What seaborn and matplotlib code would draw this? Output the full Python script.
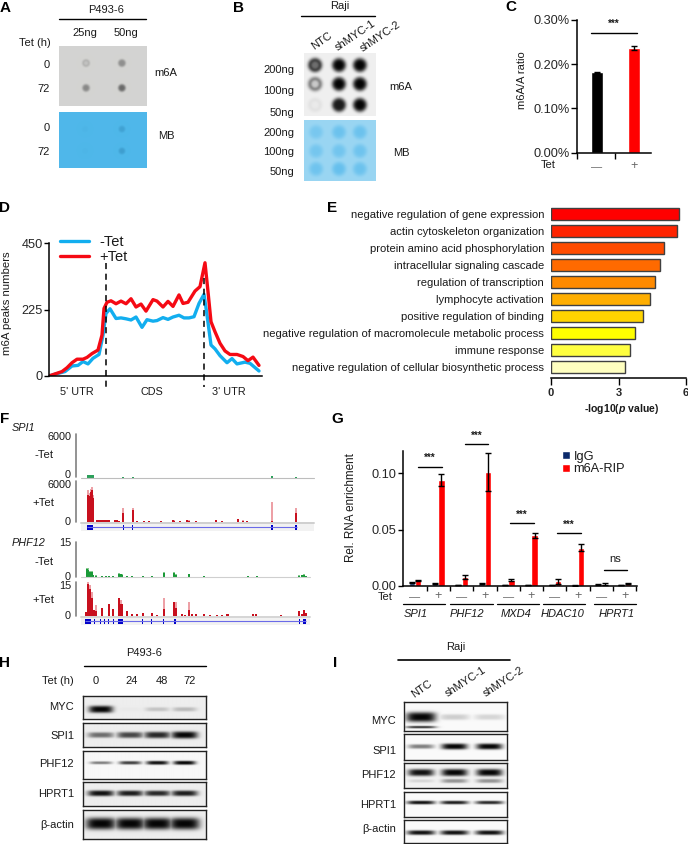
import numpy as np
import pandas as pd
import matplotlib
matplotlib.use('Agg')
import matplotlib.pyplot as plt
from matplotlib.lines import Line2D
from matplotlib.patches import Rectangle
import seaborn as sns

W, H = 688, 844

# panel C
tet_groups = ['-', '+']
ratio_vals = [0.182, 0.237]
ratio_errs = [0.001, 0.004]

# panel D
minus_x = [0, 6, 16, 23, 29, 34, 39, 44, 50, 54, 57, 61, 67, 72, 77, 82, 87, 93, 98, 104, 108, 114, 119, 124, 130,
           135, 140, 145, 150, 155, 158, 162, 166, 171, 178, 183, 188, 196, 201, 210]
minus_peaks = [0, 6, 15, 34, 36, 49, 41, 60, 73, 139, 212, 228, 195, 197, 194, 190, 200, 165, 191, 186, 188, 198, 192,
               200, 206, 197, 197, 201, 246, 277, 207, 105, 92, 69, 45, 59, 41, 47, 43, 17]
plus_x = [0, 6, 13, 18, 23, 28, 34, 38, 43, 49, 53, 55, 58, 62, 67, 72, 77, 82, 87, 92, 97, 104, 108, 114, 119, 124,
          130, 134, 139, 146, 151, 156, 159, 162, 166, 171, 176, 181, 188, 194, 199, 204, 210]
plus_peaks = [0, 7, 15, 28, 45, 57, 57, 63, 76, 88, 139, 229, 250, 255, 245, 254, 245, 262, 234, 244, 220, 259, 254,
              234, 253, 236, 275, 246, 250, 288, 303, 384, 286, 184, 150, 111, 85, 73, 73, 66, 52, 64, 36]

# panel E
go_terms = ['negative regulation of gene expression', 'actin cytoskeleton organization',
            'protein amino acid phosphorylation', 'intracellular signaling cascade',
            'regulation of transcription', 'lymphocyte activation', 'positive regulation of binding',
            'negative regulation of macromolecule metabolic process', 'immune response',
            'negative regulation of cellular biosynthetic process']
go_vals = [5.68, 5.60, 5.02, 4.85, 4.63, 4.42, 4.08, 3.75, 3.53, 3.27]
go_colors = ['#ff0000', '#ff2400', '#ff4c00', '#ff6a00', '#ff8a00', '#ffae00', '#ffd400', '#ffff00', '#ffff40',
             '#ffffc0']

# panel F
spi1_minus_pos = [264, 268, 272, 276, 280, 370, 398, 815, 887]
spi1_minus_val = [350, 400, 350, 350, 300, 120, 130, 200, 100]
spi1_plus_pos = [264, 267, 270, 273, 276, 279, 370, 398, 815, 887, 290, 296, 302, 310, 316, 322, 328, 345, 352, 358,
                 412, 432, 448, 482, 518, 522, 540, 562, 566, 588, 648, 665, 715, 730, 742]
spi1_plus_val = [4600, 4200, 4000, 4800, 5100, 4000, 1950, 2050, 2900, 2050, 150, 180, 150, 200, 200, 200, 180, 150,
                 150, 120, 120, 100, 100, 100, 200, 150, 80, 200, 150, 100, 220, 100, 380, 150, 120]
spi1_plus_dark = [3900, 3800, 3500, 4300, 4700, 3500, 1220, 1650, 100, 1200, 150, 180, 150, 200, 200, 200, 180, 150,
                  150, 120, 60, 50, 50, 50, 150, 100, 40, 150, 100, 50, 150, 50, 300, 100, 80]
phf_minus_pos = [262, 265, 270, 275, 280, 288, 305, 318, 326, 340, 358, 362, 367, 380, 396, 428, 455, 491, 522, 527,
                 566, 611, 745, 770, 898, 905, 912, 918]
phf_minus_val = [3.9, 3.5, 2.4, 2.6, 0.7, 0.5, 0.4, 0.3, 0.3, 0.4, 1.4, 1.3, 1.0, 0.4, 0.4, 0.3, 0.3, 2.1, 1.9, 1.0,
                 1.1, 0.3, 0.2, 0.2, 0.5, 0.6, 1.0, 0.4]
phf_plus_pos = [258, 265, 270, 276, 281, 288, 305, 326, 338, 358, 362, 367, 380, 396, 410, 428, 455, 470, 491, 522,
                527, 545, 555, 566, 575, 588, 612, 630, 650, 665, 680, 685, 760, 768, 842, 898, 905, 912, 917]
phf_plus_val = [1.5, 15.7, 13.5, 10.3, 2.5, 4.7, 3.5, 5.0, 2.8, 8.0, 6.9, 5.1, 2.2, 0.6, 0.5, 1.3, 1.2, 0.4, 7.9, 6.2,
                5.9, 0.5, 0.4, 6.2, 0.6, 0.5, 0.5, 0.3, 0.3, 0.4, 0.7, 0.6, 0.5, 0.5, 0.3, 2.2, 0.8, 2.4, 1.0]
phf_plus_dark = [1.5, 14, 12, 8, 2.5, 2, 3.5, 5.0, 2.8, 8.0, 5, 5, 2.2, 0.6, 0.5, 1.3, 1.2, 0.4, 3, 6.2,
                 3.5, 0.5, 0.4, 2.5, 0.6, 0.5, 0.5, 0.3, 0.3, 0.4, 0.7, 0.6, 0.5, 0.5, 0.3, 2.2, 0.8, 2.4, 1.0]
spi1_exons = [(262, 280), (369, 373), (396, 400), (814, 818), (885, 892)]
phf_exons = [(255, 272), (275, 277), (282, 284), (290, 292), (300, 302), (312, 314), (325, 328), (340, 342),
             (355, 370), (380, 382), (392, 394), (427, 429), (454, 456), (490, 492), (522, 527), (566, 568),
             (897, 900), (910, 917)]

# panel G
rip_groups = ['SPI1 -', 'SPI1 +', 'PHF12 -', 'PHF12 +', 'MXD4 -', 'MXD4 +', 'HDAC10 -', 'HDAC10 +', 'HPRT1 -',
              'HPRT1 +']
igg_vals = [0.003, 0.002, 0.001, 0.002, 0.001, 0.001, 0.001, 0.0005, 0.0015, 0.001]
igg_errs = [0.0005, 0.0005, 0.0002, 0.0005, 0.0002, 0.0002, 0.0002, 0.0002, 0.0003, 0.0002]
rip_vals = [0.005, 0.094, 0.008, 0.101, 0.005, 0.045, 0.004, 0.034, 0.002, 0.002]
rip_errs = [0.0005, 0.005, 0.002, 0.017, 0.001, 0.002, 0.002, 0.003, 0.0008, 0.0005]
gene_names = ['SPI1', 'PHF12', 'MXD4', 'HDAC10', 'HPRT1']

# dot blots, level per dot and how hollow it is
a_m6a_levels = [[0.30, 0.50], [0.50, 0.70]]
a_m6a_holes = [[0.6, 0.1], [0.0, 0.0]]
a_mb_levels = [[0.05, 0.30], [0.04, 0.35]]
b_m6a_levels = [[1.0, 1.0, 1.0], [0.65, 1.0, 1.0], [0.08, 1.0, 1.0]]
b_m6a_holes = [[0.45, 0.0, 0.0], [0.75, 0.0, 0.0], [0.7, 0.1, 0.0]]
b_mb_levels = [[0.55, 0.75, 0.75], [0.6, 0.65, 0.7], [0.7, 0.85, 0.75]]

# western blots, band strength per lane
h_lanes = ['0', '24', '48', '72']
h_myc = [1.0, 0.02, 0.18, 0.22]
h_spi1 = [0.55, 0.72, 0.85, 1.0]
h_phf12 = [0.5, 0.75, 0.95, 1.0]
h_hprt1 = [0.95, 0.9, 0.85, 0.9]
h_actin = [1.0, 1.0, 1.0, 1.0]
i_lanes = ['NTC', 'shMYC-1', 'shMYC-2']
i_myc = [1.0, 0.18, 0.15]
i_myc_low = [0.8, 0.0, 0.0]
i_spi1 = [0.5, 1.0, 1.0]
i_phf12 = [0.95, 1.0, 1.0]
i_phf12_low = [0.12, 0.4, 0.4]
i_hprt1 = [0.95, 0.9, 0.85]
i_actin = [0.95, 0.95, 0.95]

sns.set_theme(style='ticks')
plt.rcParams['font.family'] = ['Liberation Sans', 'DejaVu Sans']
plt.rcParams['mathtext.fontset'] = 'custom'
plt.rcParams['mathtext.rm'] = 'Liberation Sans'
plt.rcParams['mathtext.it'] = 'Liberation Sans:italic'
plt.rcParams['mathtext.bf'] = 'Liberation Sans:bold'
plt.rcParams['mathtext.bfit'] = 'Liberation Sans:italic:bold'
plt.rcParams['text.color'] = '#1a1a1a'

fig = plt.figure(figsize=(W / 100, H / 100), dpi=100)


def px_axes(x0, y0, x1, y1):
    return fig.add_axes([x0 / W, 1 - y1 / H, (x1 - x0) / W, (y1 - y0) / H])


def label(x, y, s, ha='center', size=8, **kw):
    fig.text(x / W, 1 - y / H, s, ha=ha, va='center', fontsize=size, **kw)


def hline(x0, x1, y, lw=1.0, color='black'):
    fig.add_artist(Line2D([x0 / W, x1 / W], [1 - y / H, 1 - y / H], color=color, lw=lw))


def vline(x, y0, y1, lw=1.0, color='black', **kw):
    fig.add_artist(Line2D([x / W, x / W], [1 - y0 / H, 1 - y1 / H], color=color, lw=lw, **kw))


def dot_blot(box, col_px, row_px, levels, holes, radius, bg, ink):
    # soft round spots on a membrane
    x0, y0, x1, y1 = box
    ax = px_axes(x0, y0, x1, y1)
    xx, yy = np.meshgrid(np.linspace(x0, x1, (x1 - x0) * 3), np.linspace(y0, y1, (y1 - y0) * 3))
    alpha = np.zeros_like(xx)
    for j, cy in enumerate(row_px):
        for i, cx in enumerate(col_px):
            r = np.hypot(xx - cx, yy - cy)
            spot = np.exp(-(r / radius) ** 4)
            hole = 0 if holes is None else holes[j][i]
            spot = spot * (1 - hole * np.exp(-(r / (radius * 0.62)) ** 4))
            alpha = np.maximum(alpha, levels[j][i] * spot)
    bg = np.array(matplotlib.colors.to_rgb(bg))
    ink = np.array(matplotlib.colors.to_rgb(ink))
    img = bg[None, None, :] * (1 - alpha[..., None]) + ink[None, None, :] * alpha[..., None]
    ax.imshow(img, aspect='auto', interpolation='bilinear')
    ax.axis('off')


def west_blot(box, lanes_frac, half_w, bands, bg=0.93):
    # bands is a list of (height fraction, strengths, thickness in px)
    x0, y0, x1, y1 = box
    ax = px_axes(x0, y0, x1, y1)
    xx, yy = np.meshgrid(np.linspace(0, x1 - x0, (x1 - x0) * 3), np.linspace(0, y1 - y0, (y1 - y0) * 3))
    dark = np.zeros_like(xx)
    for frac, strengths, thick in bands:
        for lane, s in zip(lanes_frac, strengths):
            dx = (xx - lane * (x1 - x0)) / half_w
            dy = (yy - frac * (y1 - y0)) / (thick * (0.5 + 0.5 * s))
            dark = np.maximum(dark, s * np.exp(-dx ** 4) * np.exp(-np.abs(dy) ** 3))
    ax.imshow(bg * (1 - dark) + 0.02 * dark, cmap='gray', vmin=0, vmax=1, aspect='auto', interpolation='bilinear')
    ax.set_xticks([])
    ax.set_yticks([])
    for s in ax.spines.values():
        s.set_visible(True)
        s.set_linewidth(1.0)
        s.set_color('#222222')


# panel letters
for x, y, s in [(5, 8, 'A'), (238, 8, 'B'), (511, 7, 'C'), (5, 208, 'D'), (332, 208, 'E'), (5, 419, 'F'),
                (337, 419, 'G'), (5, 663, 'H'), (335, 663, 'I')]:
    label(x, y, s, size=11, fontweight='bold', color='black')

# A
hline(59, 146, 19)
label(106, 10, 'P493-6', size=8)
label(85, 33, '25ng', size=8)
label(126, 33, '50ng', size=8)
label(35, 43, 'Tet (h)', size=8)
for y, s in [(65, '0'), (89, '72'), (128, '0'), (152, '72')]:
    label(50, y, s, ha='right', size=8)
label(166, 73, 'm6A', size=8)
label(166, 136, 'MB', size=8)
dot_blot((59, 46, 147, 106), [86, 122], [63, 88], a_m6a_levels, a_m6a_holes, 3.8, '#d4d4d2', '#3c3c3c')
dot_blot((59, 112, 147, 168), [85, 122], [129, 151], a_mb_levels, None, 3.4, '#4fb8ea', '#1f6f9f')

# B
hline(301, 375, 15.5)
label(340, 6, 'Raji', size=8)
label(321.5, 41, 'NTC', size=8, rotation=35)
label(355, 36, 'shMYC-1', size=8, rotation=34)
label(380, 37, 'shMYC-2', size=8, rotation=34)
for y, s in [(70, '200ng'), (91, '100ng'), (113, '50ng'), (133, '200ng'), (152, '100ng'), (172, '50ng')]:
    label(294, y, s, ha='right', size=8)
label(401, 87, 'm6A', size=8)
label(401, 153, 'MB', size=8)
dot_blot((304, 53, 376, 116), [315, 339, 360], [65, 84, 105], b_m6a_levels, b_m6a_holes, 7.0, '#f0f0f0', '#050505')
dot_blot((304, 120, 376, 181), [316, 339, 360], [132, 151, 169], b_mb_levels, None, 7.0, '#9ad6f3', '#5dbcec')

# C
ax = px_axes(577, 20, 651, 152.7)
sns.barplot(x=tet_groups, y=ratio_vals, hue=tet_groups, palette=['black', 'red'], width=0.3, legend=False, ax=ax,
            saturation=1)
ax.errorbar([0, 1], ratio_vals, yerr=ratio_errs, fmt='none', ecolor='black', elinewidth=1, capsize=2.5, capthick=1)
ax.set_xlim(-0.54, 1.46)
ax.set_ylim(0, 0.30)
ax.set_yticks([0, 0.1, 0.2, 0.3])
ax.set_yticklabels(['0.00%', '0.10%', '0.20%', '0.30%'], fontsize=9.2)
ax.set_xticks([-0.54, 0.5])
ax.set_xticklabels([])
ax.tick_params(length=4, width=1, pad=1, color='black')
ax.set_ylabel('')
sns.despine(ax=ax)
for s in ['left', 'bottom']:
    ax.spines[s].set_linewidth(1.1)
    ax.spines[s].set_color('black')
label(522, 80, 'm6A/A ratio', size=8, rotation=90)
label(548, 165, 'Tet', size=8)
label(597, 167, '\u2014', size=8, color='#666666')
label(634, 166, '+', size=9, color='#666666')
hline(591, 637, 33)
label(614, 24, '***', size=7, fontweight='bold')

# D
ax = px_axes(49, 243.3, 262, 376)
sns.lineplot(x=minus_x, y=minus_peaks, color='#12aeef', lw=2.4, ax=ax, label='-Tet', sort=False, errorbar=None)
sns.lineplot(x=plus_x, y=plus_peaks, color='#f50a14', lw=2.4, ax=ax, label='+Tet', sort=False, errorbar=None)
ax.set_xlim(0, 213)
ax.set_ylim(0, 450)
ax.set_yticks([0, 225, 450])
ax.set_yticklabels(['0', '225', '450'], fontsize=9.2)
ax.set_xticks([])
ax.tick_params(length=3.5, width=1, pad=1, color='black')
sns.despine(ax=ax)
for s in ['left', 'bottom']:
    ax.spines[s].set_linewidth(1.1)
    ax.spines[s].set_color('black')
ax.legend(loc='upper left', bbox_to_anchor=(0.052, 1.06), frameon=False, fontsize=10.5, handlelength=2.0,
          handletextpad=0.7, labelspacing=0.05, borderpad=0, borderaxespad=0)
vline(106, 263, 387, lw=1.1, linestyle=(0, (4, 3)))
vline(203.7, 278, 387, lw=1.1, linestyle=(0, (4, 3)))
label(7, 303, 'm6A peaks numbers', size=8.2, rotation=90)
label(77, 392, "5' UTR", size=7.8)
label(152, 392, 'CDS', size=7.8)
label(229, 392, "3' UTR", size=7.8)

# E
ax = px_axes(551, 205.5, 686, 378)
sns.barplot(x=go_vals, y=go_terms, hue=go_terms, palette=go_colors, orient='h', width=0.7, legend=False, ax=ax,
            saturation=1, edgecolor='#404040', linewidth=1)
ax.set_xlim(0, 6)
ax.set_ylim(9.65, -0.5)
ax.set_xticks([0, 3, 6])
ax.set_xticklabels(['0', '3', '6'], fontsize=8, fontweight='bold')
ax.tick_params(axis='x', length=5, width=1, pad=2, color='black')
ax.tick_params(axis='y', length=0, pad=5, labelsize=8.1, labelcolor='#1a1a1a')
ax.set_xlabel('')
sns.despine(ax=ax, left=True)
ax.spines['bottom'].set_color('black')
ax.spines['bottom'].set_linewidth(1.1)
label(622, 409, r'-log10($\mathbfit{p}$ value)', size=7.6, fontweight='bold')


# F
def track(box, pos, vals, top, xmax, light, dark_vals=None, dark=None, width=5.5):
    ax = px_axes(*box)
    ax.bar(pos, vals, width=width, color=light, linewidth=0)
    if dark_vals is not None:
        ax.bar(pos, dark_vals, width=width, color=dark, linewidth=0)
    ax.set_xlim(243, xmax)
    ax.set_ylim(0, top)
    ax.axis('off')
    return ax


def gene_model(y0, y1, xmax, px_right, exons, start, end):
    ax = px_axes(81, y0, px_right, y1)
    ax.set_facecolor('#f2f2f2')
    ax.hlines(0.5, start, end, color='#6a6ae8', lw=0.8)
    for a, b in exons:
        ax.add_patch(Rectangle((a, 0.15), b - a, 0.7, color='#0000c8', lw=0))
    ax.set_xlim(243, xmax)
    ax.set_ylim(0, 1)
    ax.set_xticks([])
    ax.set_yticks([])
    for s in ax.spines.values():
        s.set_visible(False)


track((81, 434, 314, 477.5), spi1_minus_pos, spi1_minus_val, 6000, 942, '#2ca05a')
track((81, 481, 314, 521.5), spi1_plus_pos, spi1_plus_val, 6000, 942, '#eda0a6', spi1_plus_dark, '#c8101e')
track((81, 542, 310, 576.5), phf_minus_pos, phf_minus_val, 15, 930, '#86c98f', [v * 0.8 for v in phf_minus_val], '#1a9a38')
track((81, 582, 310, 615.5), phf_plus_pos, phf_plus_val, 15, 930, '#eda0a6', phf_plus_dark, '#c8101e')
hline(81, 314, 478, lw=0.8, color='#bdbdbd')
hline(81, 314, 522.5, lw=1.4, color='#cfcfcf')
hline(81, 310, 577, lw=0.8, color='#cfcfcf')
hline(81, 310, 616.5, lw=1.4, color='#d5d5d5')
gene_model(523.5, 531, 942, 314, spi1_exons, 262, 892)
gene_model(617.5, 625, 930, 310, phf_exons, 255, 917)
for y0, y1 in [(434, 477), (481, 522), (542, 577), (582, 616)]:
    vline(76, y0, y1, lw=1.2, color='#808080')
label(12, 428, 'SPI1', ha='left', size=7.8, style='italic')
label(12, 543, 'PHF12', ha='left', size=7.8, style='italic')
for y, s in [(437, '6000'), (475, '0'), (485, '6000'), (522, '0'), (543, '15'), (577, '0'), (586, '15'), (616, '0')]:
    label(71, y, s, ha='right', size=7.8)
for y, s in [(455, '-Tet'), (503, '+Tet'), (562, '-Tet'), (600, '+Tet')]:
    label(54, y, s, ha='right', size=8.2)

# G
ax = px_axes(403, 450.7, 637, 586)
rip_df = pd.DataFrame({'group': rip_groups * 2, 'value': igg_vals + rip_vals,
                       'antibody': ['IgG'] * 10 + ['m6A-RIP'] * 10})
sns.barplot(data=rip_df, x='group', y='value', hue='antibody', palette=['#0b2a6b', '#ff0000'], width=0.55, ax=ax,
            saturation=1)
for container, errs in zip(ax.containers, [igg_errs, rip_errs]):
    for bar, err in zip(container, errs):
        ax.errorbar(bar.get_x() + bar.get_width() / 2, bar.get_height(), yerr=err, fmt='none', ecolor='black',
                    elinewidth=1, capsize=2.5, capthick=1)
ax.set_xlim(-0.515, 9.53)
ax.set_ylim(0, 0.12)
ax.set_yticks([0, 0.05, 0.10])
ax.set_yticklabels(['0.00', '0.05', '0.10'], fontsize=9.2)
ax.set_xticks(np.arange(10) + 0.5)
ax.set_xticklabels([])
ax.set_xlabel('')
ax.set_ylabel('')
ax.tick_params(length=3.5, width=1, pad=1, color='black')
sns.despine(ax=ax)
for s in ['left', 'bottom']:
    ax.spines[s].set_linewidth(1.1)
    ax.spines[s].set_color('black')
handles, labels_ = ax.get_legend_handles_labels()
ax.legend(handles, labels_, loc='upper left', bbox_to_anchor=(0.68, 1.0), frameon=False, fontsize=9.2,
          handlelength=0.6, handleheight=0.6, handletextpad=0.3, labelspacing=0.05, borderpad=0, borderaxespad=0)
label(351, 508, 'Rel. RNA enrichment', size=8.4, rotation=90)
label(385, 597.5, 'Tet', size=8)
for i in range(10):
    cx = 415 + i * 23.3
    if i % 2 == 0:
        label(cx, 597.5, '\u2014', size=8, color='#666666')
    else:
        label(cx, 596.5, '+', size=9, color='#666666')
for x0, x1, y, txt_y, txt in [(418, 442, 467, 458, '***'), (465, 488, 444, 436, '***'), (510, 534, 523, 515, '***'),
                              (557, 581, 533, 525, '***'), (604, 627, 570, 559, 'ns')]:
    hline(x0, x1, y)
    if txt == 'ns':
        label((x0 + x1) / 2, txt_y, txt, size=8)
    else:
        label((x0 + x1) / 2, txt_y, txt, size=7, fontweight='bold')
for x0, x1 in [(403, 445), (450, 493), (497, 539), (543, 585), (594, 636)]:
    hline(x0, x1, 603.7, lw=0.9)
for x, s in zip([416, 467, 516, 563, 617], gene_names):
    label(x, 614, s, size=8, style='italic')

# H
hline(84, 206, 666)
label(144, 653, 'P493-6', size=8)
label(58, 681, 'Tet (h)', size=8)
for x, s in zip([96, 132, 161.5, 190], h_lanes):
    label(x, 681, s, size=8)
h_frac = [0.144, 0.38, 0.6, 0.82]
west_blot((83, 696, 206, 719), h_frac, 12, [(0.58, h_myc, 3.6)])
west_blot((83, 723, 206, 747), h_frac, 13, [(0.5, h_spi1, 3.6)])
west_blot((83, 751, 206, 779), h_frac, 11, [(0.42, h_phf12, 2.0)], bg=0.97)
west_blot((83, 782, 206, 806), h_frac, 13, [(0.47, h_hprt1, 3.0)])
west_blot((83, 810, 206, 839), h_frac, 15, [(0.47, h_actin, 6.0)])
for y, s in [(707, 'MYC'), (736, 'SPI1'), (764, 'PHF12'), (794, 'HPRT1'), (825, '\u03b2-actin')]:
    label(74, y, s, ha='right', size=8)

# I
hline(398, 510, 660, lw=1.2)
label(456, 647, 'Raji', size=8)
label(422, 689, 'NTC', size=8, rotation=35)
label(466, 682, 'shMYC-1', size=8, rotation=33)
label(504, 682, 'shMYC-2', size=8, rotation=33)
i_frac = [0.165, 0.49, 0.83]
west_blot((404, 702, 507, 731), i_frac, 15, [(0.52, i_myc, 5.0), (0.87, i_myc_low, 1.4)], bg=0.98)
west_blot((404, 734, 507, 760), i_frac, 13, [(0.48, i_spi1, 3.0)], bg=0.98)
west_blot((404, 763, 507, 788), i_frac, 13, [(0.38, i_phf12, 3.6), (0.72, i_phf12_low, 3.0)], bg=0.95)
west_blot((404, 792, 507, 817), i_frac, 14, [(0.42, i_hprt1, 1.9)], bg=0.98)
west_blot((404, 820, 507, 843), i_frac, 14, [(0.55, i_actin, 2.4)], bg=0.98)
for y, s in [(721, 'MYC'), (751, 'SPI1'), (775, 'PHF12'), (805, 'HPRT1'), (829, '\u03b2-actin')]:
    label(396, y, s, ha='right', size=8)

fig.savefig('out.png', dpi=100)
